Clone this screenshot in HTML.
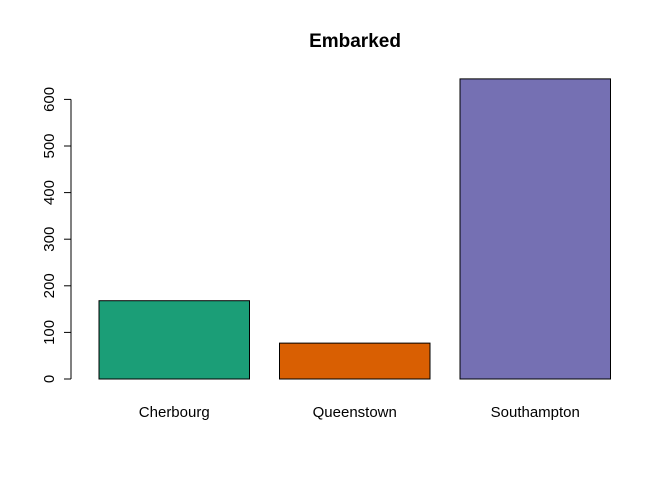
<!DOCTYPE html>
<html><head><meta charset="utf-8"><style>
body{margin:0;background:#fff}
svg{display:block;font-family:"Liberation Sans",Arial,sans-serif}
</style></head><body>
<svg id="chart" width="672" height="480" viewBox="0 0 672 480">
<rect width="672" height="480" fill="#fff"/>
<text x="355" y="47" text-anchor="middle" font-size="19" font-weight="bold">Embarked</text>
<g id="bars"></g>
<g id="yaxis"></g>
</svg>
<script>
const categories = ["Cherbourg","Queenstown","Southampton"];
const values = [168, 77, 644];
const colors = ["#1b9e77","#d95f02","#7570b3"];
const yTicks = [0,100,200,300,400,500,600];

const y0 = 379, pxPerUnit = 279.6/600;
function yScale(v){ return y0 - v*pxPerUnit; }
function xScale(i){ return 99 + i*180.5; }
const barW = 150.5;
const NS = "http://www.w3.org/2000/svg";
const bars = document.getElementById('bars');
categories.forEach((c,i)=>{
  const r = document.createElementNS(NS,'rect');
  
  
  r.setAttribute('x', xScale(i)); r.setAttribute('y', yScale(values[i]));
  r.setAttribute('width', barW); r.setAttribute('height', y0 - yScale(values[i]));
  r.setAttribute('fill', colors[i]); r.setAttribute('stroke', '#000'); r.setAttribute('stroke-width', '1');
  bars.appendChild(r);
  const t = document.createElementNS(NS,'text');
  
  
  t.setAttribute('x', xScale(i) + barW/2); t.setAttribute('y', 417);
  t.setAttribute('text-anchor', 'middle'); t.setAttribute('font-size', '15');
  t.textContent = c;
  bars.appendChild(t);
});
const ax = document.getElementById('yaxis');
const line = document.createElementNS(NS,'line');


line.setAttribute('x1', 71); line.setAttribute('x2', 71);
line.setAttribute('y1', yScale(yTicks[0])); line.setAttribute('y2', yScale(yTicks[yTicks.length-1]));
line.setAttribute('stroke', '#000');
ax.appendChild(line);
yTicks.forEach(v=>{
  const tk = document.createElementNS(NS,'line');
  
  
  tk.setAttribute('x1', 64); tk.setAttribute('x2', 71);
  tk.setAttribute('y1', yScale(v)); tk.setAttribute('y2', yScale(v));
  tk.setAttribute('stroke', '#000');
  ax.appendChild(tk);
  const t = document.createElementNS(NS,'text');
  
  
  const yy = yScale(v);
  t.setAttribute('transform', 'translate(54,' + yy + ') rotate(-90)');
  t.setAttribute('text-anchor', 'middle'); t.setAttribute('font-size', '15');
  t.textContent = v;
  ax.appendChild(t);
});
</script>
</body></html>
